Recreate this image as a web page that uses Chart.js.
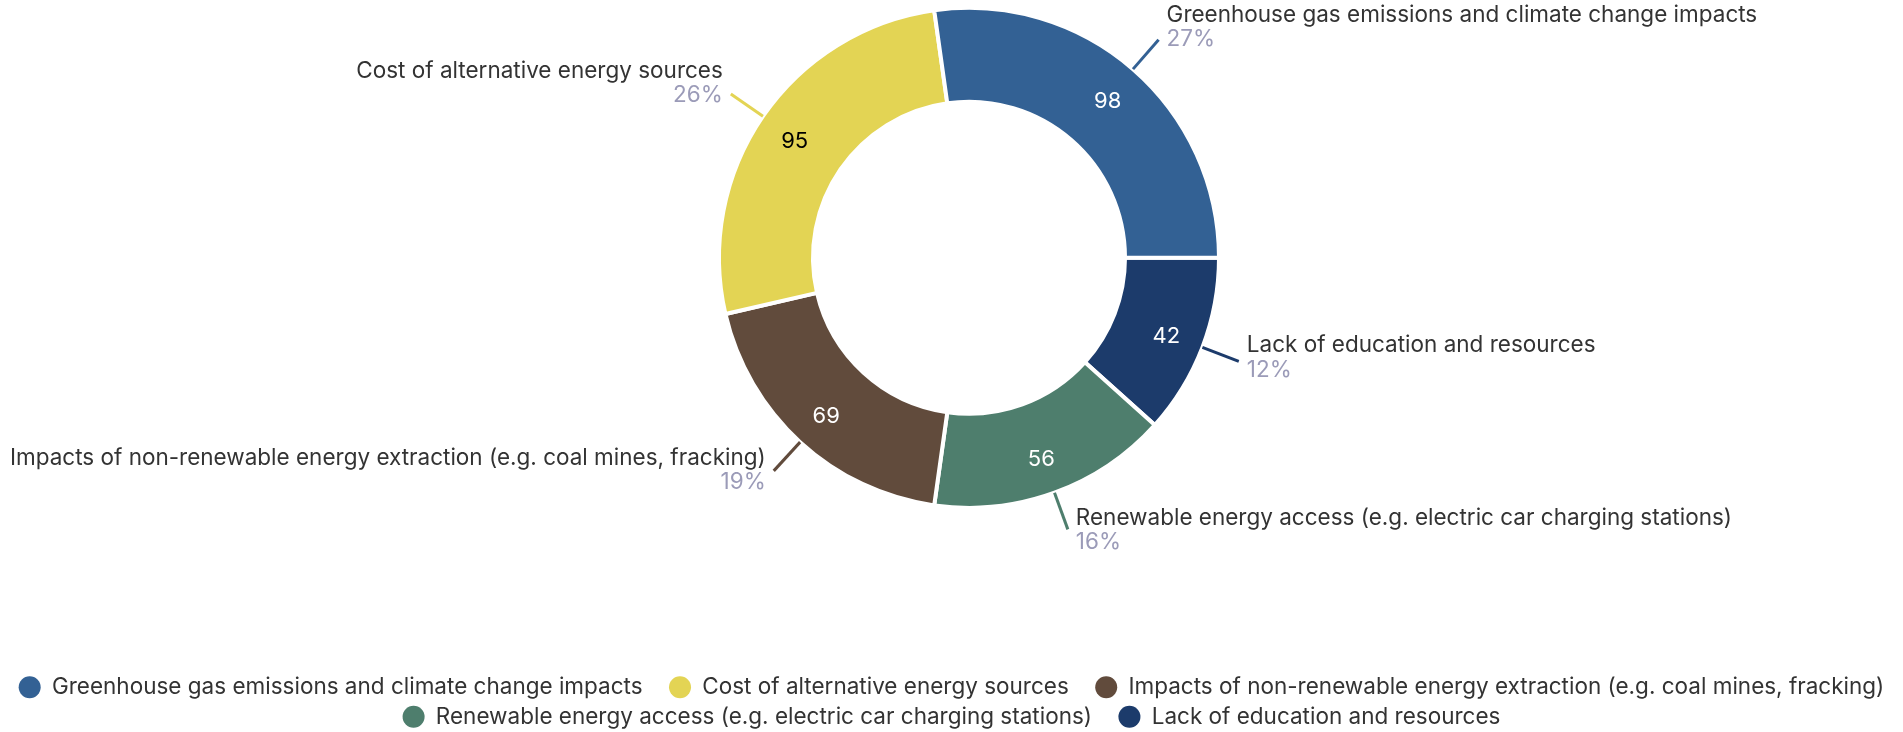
<!DOCTYPE html>
<html>
<head>
<meta charset="utf-8">
<style>
  html, body { margin: 0; padding: 0; background: #fff; overflow: hidden; }
  .grafico { width: 1903px; height: 732px; position: relative; }
</style>
<script src="https://cdn.jsdelivr.net/npm/chart.js@4.4.1/dist/chart.umd.min.js"></script>
</head>
<body>
<div class="grafico"><canvas id="graficoRosca"></canvas></div>
<script>
// === DADOS =================================================================
// na ordem da legenda
const categorias = [
  'Greenhouse gas emissions and climate change impacts',
  'Cost of alternative energy sources',
  'Impacts of non-renewable energy extraction (e.g. coal mines, fracking)',
  'Renewable energy access (e.g. electric car charging stations)',
  'Lack of education and resources'
];
const valores = [98, 95, 69, 56, 42];
const cores = ['#336194', '#e3d454', '#614b3c', '#4e7e6d', '#1c3b6b'];
const corValor = ['#ffffff', '#000000', '#ffffff', '#ffffff', '#ffffff'];

// === HELPERS ===============================================================
const FONTE = 'Inter, "Noto Sans", sans-serif';
const TAM = 22.5;
const total = valores.reduce((a, b) => a + b, 0);
const inverte = arr => arr.slice().reverse();   // fatias vão no sentido anti-horário a partir das 3h
const fimDeLinha = [categorias[2], categorias[4]]; // últimos de cada linha da legenda, sem respiro

const rotulosExternos = {
  id: 'rotulosExternos',
  afterDatasetsDraw(chart) {
    const ctx = chart.ctx;
    const ds = chart.data.datasets[0];
    chart.getDatasetMeta(0).data.forEach((arc, i) => {
      const { x, y, startAngle, endAngle, outerRadius, innerRadius } =
        arc.getProps(['x', 'y', 'startAngle', 'endAngle', 'outerRadius', 'innerRadius'], true);
      const meio = (startAngle + endAngle) / 2;
      const cos = Math.cos(meio), sin = Math.sin(meio);
      const valor = ds.data[i];

      ctx.save();
      // valor dentro da fatia
      const rv = innerRadius + (outerRadius - innerRadius) * 0.59;
      ctx.font = `22px ${FONTE}`;
      ctx.textAlign = 'center';
      ctx.textBaseline = 'middle';
      ctx.fillStyle = ds.corValor[i];
      ctx.fillText(String(valor), x + cos * rv, y + sin * rv + 3);

      // linha guia
      const x0 = x + cos * outerRadius, y0 = y + sin * outerRadius;
      const x1 = x + cos * (outerRadius + 39), y1 = y + sin * (outerRadius + 39);
      ctx.strokeStyle = ds.backgroundColor[i];
      ctx.lineWidth = 3;
      ctx.beginPath();
      ctx.moveTo(x0, y0);
      ctx.lineTo(x1, y1);
      ctx.stroke();

      // nome + percentual
      const direita = cos >= 0;
      const tx = x1 + (direita ? 8 : -8);
      const cy = y1 - 8 * (1 - sin);
      ctx.font = `${TAM}px ${FONTE}`;
      ctx.textAlign = direita ? 'left' : 'right';
      ctx.textBaseline = 'alphabetic';
      ctx.fillStyle = '#333333';
      ctx.fillText(chart.data.labels[i], tx, cy - 4);
      ctx.fillStyle = '#9b9bb8';
      ctx.fillText(Math.round(valor / total * 100) + '%', tx, cy + 20.5);
      ctx.restore();
    });
  }
};

// === CHART =================================================================
const elRosca = document.getElementById('graficoRosca');
const geraLegenda = Chart.overrides.doughnut.plugins.legend.labels.generateLabels;

const graficoRosca = new Chart(elRosca, {
  type: 'doughnut',
  data: {
    labels: inverte(categorias),
    datasets: [{
      data: inverte(valores),
      backgroundColor: inverte(cores),
      corValor: inverte(corValor),
      borderColor: '#ffffff',
      borderWidth: 4,
      hoverOffset: 0
    }]
  },
  options: {
    responsive: true,
    maintainAspectRatio: false,
    animation: false,
    rotation: 90,
    radius: 250,
    cutout: '62.4%',
    layout: { padding: { top: 0, left: 0, right: 0, bottom: -6 } },
    plugins: {
      tooltip: { enabled: false },
      // título vazio à esquerda só empurra a rosca um pouco para a direita
      title: {
        display: true, text: ' ', position: 'left', fullSize: false,
        font: { size: 10 }, padding: 11.5
      },
      legend: {
        position: 'bottom',
        reverse: true,
        title: { display: true, text: ' ', padding: { top: 0, bottom: 139 } },
        labels: {
          usePointStyle: true,
          pointStyle: 'circle',
          boxWidth: 22,
          boxHeight: 15.56,
          padding: 7,
          color: '#333333',
          font: { family: FONTE, size: TAM },
          generateLabels: chart => geraLegenda(chart).map(item => ({
            ...item,
            // respiro entre itens (o padding do Chart.js também mexe no espaço entre linhas)
            text: fimDeLinha.includes(item.text) ? item.text : item.text + '\u2002\u2009\u2009',
            lineWidth: 0
          }))
        }
      }
    }
  },
  plugins: [rotulosExternos]
});
</script>
</body>
</html>
